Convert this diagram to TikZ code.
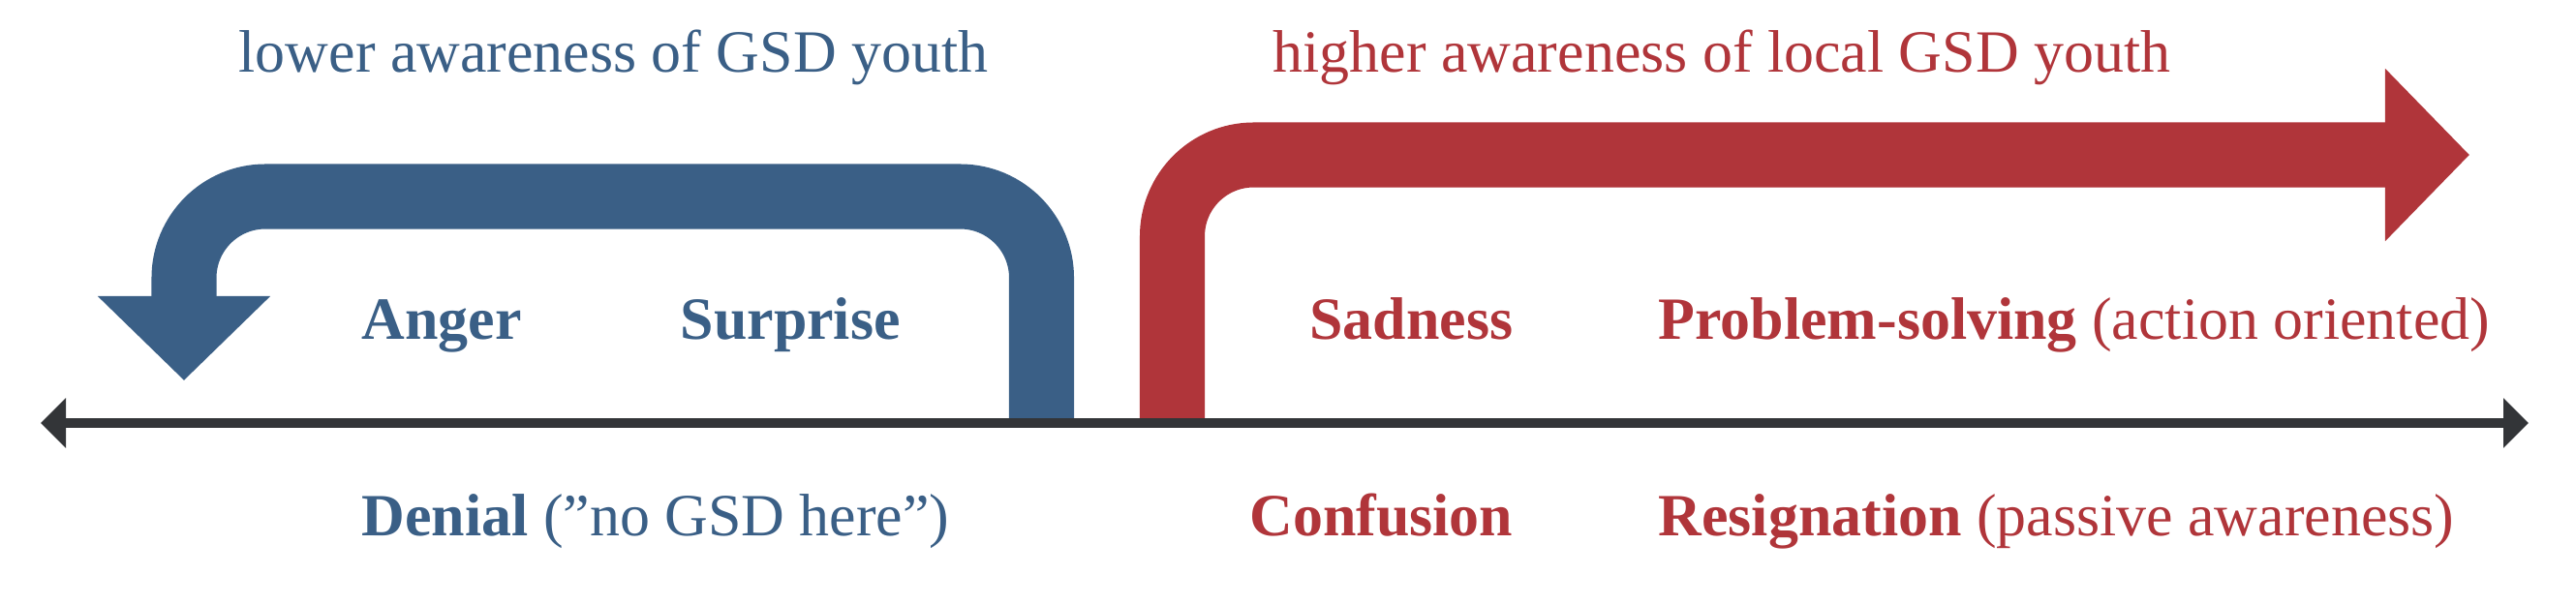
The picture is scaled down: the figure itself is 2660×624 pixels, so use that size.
\documentclass[tikz,border=0pt]{standalone}
\usepackage{fontspec}
\setmainfont{Liberation Serif}
\usetikzlibrary{arrows.meta,positioning}
\definecolor{gsdblue}{HTML}{3A5F86}
\definecolor{gsdred}{HTML}{B0353A}
\definecolor{axisgray}{HTML}{333538}

\begin{document}
\begin{tikzpicture}[x=0.01cm,y=-0.01cm,node distance=2.03cm,
  label text/.style={inner sep=0pt,anchor=base west,font=\fontsize{17.6}{21}\selectfont},
  blue text/.style={label text,text=gsdblue},
  red text/.style={label text,text=gsdred},
  big arrow/.style={line width=0.67cm,rounded corners=0.84cm,-{Triangle[length=0.87cm,width=1.73cm]}},
  axis tip/.tip={Triangle[length=0.26cm,width=0.5cm]}]
  \useasboundingbox (0,0) rectangle (2660,624);

  % turning points of the two wide arrows
  \coordinate (blue base) at (1075.5,437);
  \coordinate (blue right) at (1075.5,203);
  \coordinate (blue left) at (190,203);
  \coordinate (blue tip) at (190,393);
  \coordinate (red base) at (1210.5,437);
  \coordinate (red corner) at (1210.5,160);
  \coordinate (red tip) at (2550,160);
  \coordinate (axis left) at (42,437);
  \coordinate (axis right) at (2611,437);

  \draw[big arrow,gsdblue] (blue base) -- (blue right) -- (blue left) -- (blue tip);
  \draw[big arrow,gsdred] (red base) -- (red corner) -- (red tip);
  \draw[axisgray,line width=0.1cm,{axis tip}-{axis tip}] (axis left) -- (axis right);

  \node[blue text] (lower) at (246,74) {lower awareness of GSD youth};
  \node[red text] (higher) at (1314,74) {higher awareness of local GSD youth};

  \node[blue text] (anger) at (373,350) {\textbf{Anger}};
  \node[blue text] (surprise) at (702,350) {\textbf{Surprise}};
  \node[red text,anchor=base east] (sadness) at (1563,350) {\textbf{Sadness}};
  \node[red text] (problem) at (1712,350) {\textbf{Problem-solving} (action oriented)};

  \node[blue text] (denial) [below=of anger.base west,anchor=base west] {\textbf{Denial} (”no GSD here”)};
  \node[red text] (confusion) [below=of sadness.base east,anchor=base east] {\textbf{Confusion}};
  \node[red text] (resignation) [below=of problem.base west,anchor=base west] {\textbf{Resignation} (passive awareness)};
\end{tikzpicture}
\end{document}
